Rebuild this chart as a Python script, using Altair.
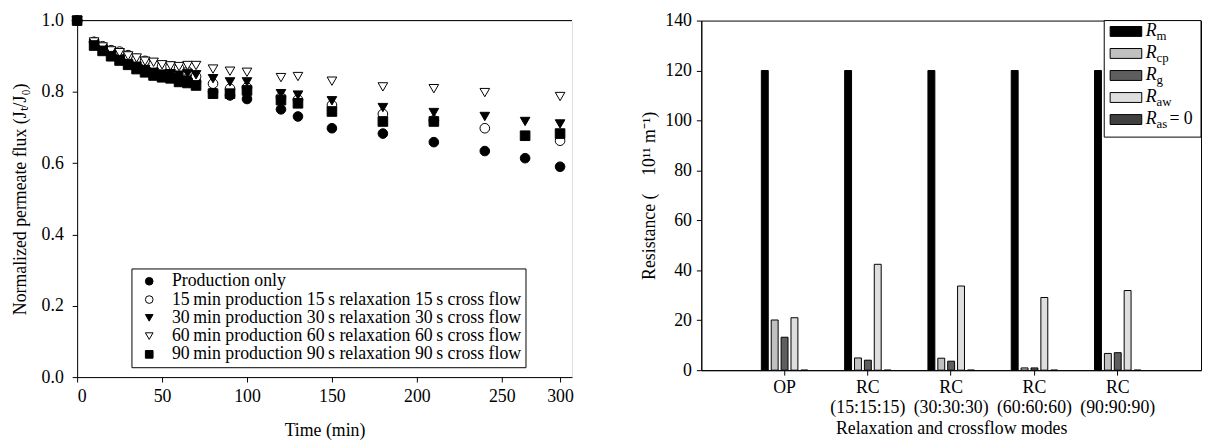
import altair as alt
import pandas as pd

SERIF = "Liberation Serif, Times New Roman, Times, serif"
FS = 18

# ---------------- Left panel data ----------------
TIMES = [0, 10, 15, 20, 25, 30, 35, 40, 45, 50, 55, 60, 65, 70, 80, 90, 100,
         120, 130, 150, 180, 210, 240, 270, 300]
PROD_ONLY = [1.0, .94, .925, .91, .897, .885, .873, .863, .856, .85, .846, .84, .835, .83,
             .80, .79, .78, .751, .731, .698, .683, .659, .634, .614, .59]
RC15 = [1.0, .94, .928, .917, .913, .903, .893, .887, .877, .872, .871, .866, .857, .843,
        .823, .809, .812, .785, .778, .763, .738, .72, .698, None, .663]
RC30 = [1.0, .935, .92, .905, .892, .878, .872, .862, .855, .85, .851, .847, .852, .848,
        .837, .828, .828, .795, .791, .775, .756, .742, .731, .717, .71]
RC60 = [1.0, .94, .926, .915, .91, .901, .895, .886, .883, .876, .873, .871, .874, .874,
        .864, .858, .855, .84, .843, .83, .814, .809, .798, None, .787]
RC90 = [1.0, .93, .915, .90, .888, .876, .864, .855, .846, .841, .838, .828, .825, .818,
        .795, .795, .804, .777, .768, .745, .717, .717, None, .677, .683]

SERIES = [
    "Production only",
    "15\u2009min production 15\u2009s relaxation 15\u2009s cross flow",
    "30\u2009min production 30\u2009s relaxation 30\u2009s cross flow",
    "60\u2009min production 60\u2009s relaxation 60\u2009s cross flow",
    "90\u2009min production 90\u2009s relaxation 90\u2009s cross flow",
]
SHAPES = ["circle", "circle", "triangle-down", "triangle-down", "square"]
FILLS = ["black", "white", "black", "white", "black"]
X_TICKS = [0, 50, 100, 150, 200, 250, 300]
Y_TICKS = [0.0, 0.2, 0.4, 0.6, 0.8, 1.0]

rows = []
for name, vals in zip(SERIES, [PROD_ONLY, RC15, RC30, RC60, RC90]):
    for t, v in zip(TIMES, vals):
        if v is not None:
            rows.append({"series": name, "t": t, "v": v})
flux = pd.DataFrame(rows)

# ---------------- Right panel data ----------------
MODES = ["OP", "RC (15:15:15)", "RC (30:30:30)", "RC (60:60:60)", "RC (90:90:90)"]
COMPONENTS = ["Rm", "Rcp", "Rg", "Raw", "Ras"]
R_M = [120, 120, 120, 120, 120]
R_CP = [20.1, 4.9, 4.8, 0.9, 6.7]
R_G = [13.2, 4.0, 3.6, 0.9, 7.0]
R_AW = [21.0, 42.4, 33.7, 29.1, 31.9]
R_AS = [0, 0, 0, 0, 0]
COMP_COLORS = ["#000000", "#c0c0c0", "#5e5e5e", "#dedede", "#404040"]
LEG_SUBS = ["m", "cp", "g", "aw", "as"]
LEG_SUFFIX = ["", "", "", "", "= 0"]
R_TICKS = [0, 20, 40, 60, 80, 100, 120, 140]

brows = []
for comp, vals in zip(COMPONENTS, [R_M, R_CP, R_G, R_AW, R_AS]):
    for m, v in zip(MODES, vals):
        brows.append({"mode": m, "comp": comp, "val": v})
bars_df = pd.DataFrame(brows)
leg_df = pd.DataFrame({"comp": COMPONENTS, "i": list(range(5)),
                       "sub": LEG_SUBS, "suffix": LEG_SUFFIX})

axis_style = dict(domainColor="black", tickColor="black", labelColor="black",
                  titleColor="black", labelFont=SERIF, titleFont=SERIF,
                  labelFontSize=FS, titleFontSize=FS, titleFontWeight="normal",
                  grid=False, tickSize=5, ticks=True)

# ---------------- Left chart ----------------
xscale = alt.Scale(domain=[0, 250, 300, 310], range=[0, 430, 489, 501], nice=False, zero=False)
yscale = alt.Scale(domain=[0, 1], nice=False, zero=False)

leg_cfg = dict(title=None, orient="none", legendX=55, legendY=251,
               strokeColor="black", fillColor="white", padding=4,
               labelFont=SERIF, labelFontSize=FS, labelColor="black",
               symbolSize=60, symbolStrokeWidth=1,
               labelOffset=14, rowPadding=0.5, symbolOffset=5, labelLimit=700)

pts = alt.Chart(flux).mark_point(filled=True, size=95, opacity=1, strokeWidth=1).encode(
    x=alt.X("t:Q", scale=xscale,
            axis=alt.Axis(values=X_TICKS, title="Time (min)", labelPadding=6,
                          titlePadding=16, **axis_style)),
    y=alt.Y("v:Q", scale=yscale,
            axis=alt.Axis(values=Y_TICKS, format=".1f",
                          title="Normalized permeate flux (J\u209c/J\u2080)",
                          labelPadding=9, titlePadding=12, **axis_style)),
    shape=alt.Shape("series:N", sort=SERIES,
                    scale=alt.Scale(domain=SERIES, range=SHAPES),
                    legend=alt.Legend(**leg_cfg)),
    fill=alt.Fill("series:N", sort=SERIES,
                  scale=alt.Scale(domain=SERIES, range=FILLS),
                  legend=alt.Legend(**leg_cfg)),
    stroke=alt.Stroke("series:N", sort=SERIES,
                      scale=alt.Scale(domain=SERIES, range=["black"] * 5),
                      legend=alt.Legend(**leg_cfg)),
)

top_line = alt.Chart(pd.DataFrame({"v": [1.0]})).mark_rule(color="black", strokeWidth=1).encode(
    y=alt.Y("v:Q", scale=yscale))

left = alt.layer(top_line, pts).properties(width=501, height=361)

# ---------------- Right chart ----------------
bars = alt.Chart(bars_df).mark_bar(stroke="black", strokeWidth=1).encode(
    x=alt.X("mode:N", sort=MODES,
            scale=alt.Scale(paddingInner=0.4425, paddingOuter=0.721),
            axis=alt.Axis(labelAngle=0, labelExpr="split(datum.value, ' ')",
                          labelLineHeight=20, labelPadding=4,
                          title="Relaxation and crossflow modes", titlePadding=3,
                          **axis_style)),
    xOffset=alt.XOffset("comp:N", sort=COMPONENTS,
                        scale=alt.Scale(paddingInner=0.3, paddingOuter=0)),
    y=alt.Y("val:Q", scale=alt.Scale(domain=[0, 140], nice=False),
            axis=alt.Axis(values=R_TICKS, title="Resistance (\u2002\u200210\u00b9\u00b9 m\u207b\u00b9)",
                          labelPadding=5, titlePadding=6, **axis_style)),
    fill=alt.Fill("comp:N", scale=alt.Scale(domain=COMPONENTS, range=COMP_COLORS),
                  legend=None),
)

leg_box = alt.Chart(pd.DataFrame({"a": [0]})).mark_rect(
    fill="white", stroke="black", strokeWidth=1).encode(
    x=alt.value(408), x2=alt.value(506), y=alt.value(0), y2=alt.value(118))

leg_base = alt.Chart(leg_df).transform_calculate(
    py="11 + 22.3 * datum.i", py1="6 + 22.3 * datum.i", py2="16 + 22.3 * datum.i",
    pys="16 + 22.3 * datum.i")

leg_sw = leg_base.mark_rect(stroke="black", strokeWidth=1).encode(
    x=alt.value(414), x2=alt.value(446),
    y=alt.Y("py1:Q", scale=None, axis=None), y2="py2:Q",
    fill=alt.Fill("comp:N", scale=alt.Scale(domain=COMPONENTS, range=COMP_COLORS),
                  legend=None))

leg_r = leg_base.mark_text(text="R", font=SERIF, fontSize=18, fontStyle="italic",
                           align="left", baseline="middle", color="black").encode(
    x=alt.value(450), y=alt.Y("py:Q", scale=None, axis=None))

leg_sub = leg_base.mark_text(font=SERIF, fontSize=13, align="left", baseline="middle",
                             color="black").encode(
    x=alt.value(461), y=alt.Y("pys:Q", scale=None, axis=None), text="sub:N")

leg_suf = leg_base.mark_text(font=SERIF, fontSize=18, align="left", baseline="middle",
                             color="black").encode(
    x=alt.value(474), y=alt.Y("py:Q", scale=None, axis=None), text="suffix:N")

right = alt.layer(bars, leg_box, leg_sw, leg_r, leg_sub, leg_suf).properties(
    width=506, height=354,
    view=alt.ViewBackground(stroke="black", strokeWidth=1))

chart = alt.hconcat(left, right, spacing=67).resolve_scale(
    fill="independent", shape="independent", stroke="independent",
    x="independent", y="independent"
).resolve_legend(fill="independent", shape="independent", stroke="independent").properties(
    padding={"left": 3, "top": 0, "right": 0, "bottom": 0}
).configure_view(stroke=None).configure(background="white")

chart.save("out.html", embed_options={"renderer": "svg", "actions": False})
